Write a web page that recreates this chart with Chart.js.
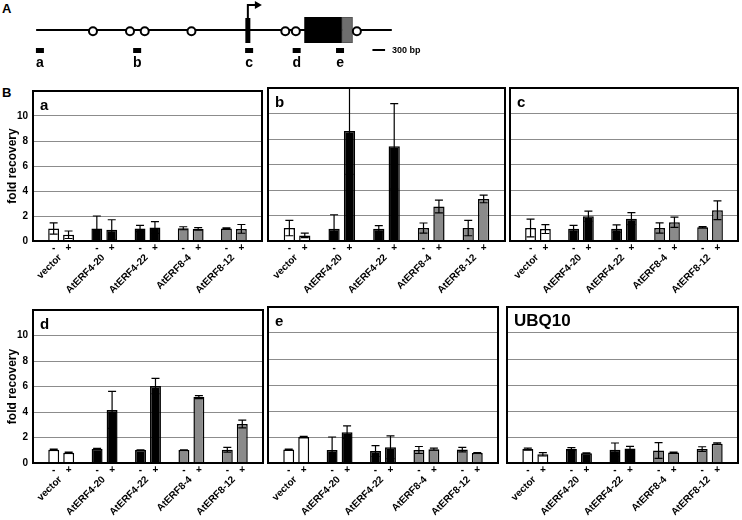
<!DOCTYPE html>
<html lang="en">
<head>
<meta charset="UTF-8">
<title>Fold recovery</title>
<script src="https://cdn.jsdelivr.net/npm/chart.js"></script>
<style>
    body {
        margin: 0;
        width: 742px;
        height: 520px;
        position: relative;
        overflow: hidden;
        background: #fff;
        font-family: 'Liberation Sans', Arial, sans-serif;
    }
    .panel { position: absolute; }
    .tag {
        position: absolute;
        font-weight: bold;
        font-size: 13px;
        line-height: 13px;
    }
</style>
</head>
<body>
<div class="tag" style="left:2px;top:2px">A</div>
<div class="tag" style="left:2px;top:86px">B</div>
<div class="panel" style="left:0;top:0;width:430px;height:75px"><canvas id="geneMap"></canvas></div>

<script>
// ---- gene map (kb from left end of the drawn region)
const locusLengthKb = 8.45;
const siteKb = [1.35, 2.23, 2.58, 3.69, 5.92, 6.17, 7.62];
const tssKb = 5.03;
const cdsKb = [6.37, 7.27];
const utrKb = [7.27, 7.51];
const ampliconNames = ['a', 'b', 'c', 'd', 'e'];
const ampliconKb = [0.09, 2.40, 5.06, 6.19, 7.22];
const scaleBarKb = 0.3;

// ---- ChIP bar panels
const constructs = ['vector', 'AtERF4-20', 'AtERF4-22', 'AtERF8-4', 'AtERF8-12'];
const treatments = ['-', '+'];
const yTicks = [0, 2, 4, 6, 8, 10];

const aMinus = [1.0, 1.0, 1.0, 1.02, 1.0];
const aMinusErr = [0.45, 1.0, 0.25, 0.12, 0.05];
const aPlus = [0.5, 0.9, 1.08, 0.97, 0.97];
const aPlusErr = [0.3, 0.8, 0.47, 0.1, 0.35];

const bMinus = [1.01, 0.96, 0.96, 1.01, 1.01];
const bMinusErr = [0.6, 1.1, 0.24, 0.4, 0.6];
const bPlus = [0.44, 8.62, 7.43, 2.7, 3.3];
const bPlusErr = [0.18, 3.4, 3.35, 0.5, 0.3];

const cMinus = [1.02, 0.97, 0.97, 1.02, 1.07];
const cMinusErr = [0.7, 0.25, 0.3, 0.4, 0.05];
const cPlus = [0.94, 1.94, 1.75, 1.47, 2.41];
const cPlusErr = [0.35, 0.4, 0.47, 0.4, 0.73];

const dMinus = [1.04, 1.09, 1.01, 1.01, 1.04];
const dMinusErr = [0.05, 0.05, 0.03, 0.03, 0.18];
const dPlus = [0.8, 4.16, 6.03, 5.17, 3.06];
const dPlusErr = [0.05, 1.45, 0.6, 0.12, 0.3];

const eMinus = [1.03, 1.0, 0.92, 1.0, 1.03];
const eMinusErr = [0.04, 1.0, 0.42, 0.27, 0.17];
const ePlus = [2.0, 2.37, 1.21, 1.06, 0.77];
const ePlusErr = [0.05, 0.48, 0.87, 0.08, 0.03];

const uMinus = [1.07, 1.07, 1.01, 0.96, 1.07];
const uMinusErr = [0.08, 0.12, 0.53, 0.6, 0.18];
const uPlus = [0.67, 0.75, 1.12, 0.8, 1.49];
const uPlusErr = [0.13, 0.03, 0.16, 0.03, 0.06];

const FONT = "'Liberation Sans', Arial, sans-serif";
const barFills = ['#ffffff', '#000000', '#000000', '#8a8a8a', '#8a8a8a'];

Chart.defaults.font.family = FONT;
Chart.defaults.animation = false;
Chart.defaults.plugins.legend.display = false;
Chart.defaults.plugins.tooltip.enabled = false;

// ---------- panel A: gene diagram ----------
const AXIS_Y = 30;
const geneParts = {
    id: 'geneParts',
    beforeDatasetsDraw(chart) {
        const ctx = chart.ctx;
        const x = chart.scales.x;
        const px = v => x.getPixelForValue(v);
        ctx.save();
        ctx.fillStyle = '#000';
        ctx.strokeStyle = '#000';
        // locus line
        ctx.lineWidth = 2;
        ctx.beginPath();
        ctx.moveTo(px(0), AXIS_Y);
        ctx.lineTo(px(locusLengthKb), AXIS_Y);
        ctx.stroke();
        // TSS bar + arrow
        const t = px(tssKb);
        ctx.fillRect(t - 2.5, 18, 5, 25);
        ctx.beginPath();
        ctx.moveTo(t, 18);
        ctx.lineTo(t, 5);
        ctx.lineTo(t + 8, 5);
        ctx.stroke();
        ctx.beginPath();
        ctx.moveTo(t + 7, 1);
        ctx.lineTo(t + 14, 5);
        ctx.lineTo(t + 7, 9);
        ctx.closePath();
        ctx.fill();
        // coding region and UTR
        ctx.fillRect(px(cdsKb[0]), 17, px(cdsKb[1]) - px(cdsKb[0]), 26);
        ctx.fillStyle = '#6e6e6e';
        ctx.fillRect(px(utrKb[0]), 17, px(utrKb[1]) - px(utrKb[0]), 26);
        ctx.strokeStyle = '#555';
        ctx.lineWidth = 1;
        ctx.strokeRect(px(utrKb[0]), 17.5, px(utrKb[1]) - px(utrKb[0]), 25);
        // amplicons
        ctx.fillStyle = '#000';
        ctx.font = 'bold 14px ' + FONT;
        ctx.textAlign = 'center';
        ctx.textBaseline = 'alphabetic';
        ampliconKb.forEach((k, i) => {
            const c = px(k);
            ctx.fillRect(c - 4, 48, 8, 5);
            ctx.fillText(ampliconNames[i], c, 67);
        });
        // scale bar
        const s0 = px(7.99);
        ctx.fillRect(s0, 49, px(7.99 + scaleBarKb) - s0, 2);
        ctx.font = 'bold 9px ' + FONT;
        ctx.textAlign = 'left';
        ctx.textBaseline = 'middle';
        ctx.fillText('300 bp', px(7.99 + scaleBarKb) + 7, 50.5);
        ctx.restore();
    }
};

new Chart(document.getElementById('geneMap'), {
    type: 'scatter',
    data: {
        datasets: [{
            data: siteKb.map(k => ({ x: k, y: AXIS_Y })),
            pointRadius: 4,
            pointBorderWidth: 2,
            pointBackgroundColor: '#fff',
            pointBorderColor: '#000'
        }]
    },
    options: {
        responsive: true,
        maintainAspectRatio: false,
        events: [],
        layout: { padding: 0 },
        scales: {
            x: { type: 'linear', display: false, min: -0.716, max: 9.215 },
            y: { type: 'linear', display: false, min: 0, max: 75, reverse: true }
        }
    },
    plugins: [geneParts]
});

// ---------- panel B: ChIP bar charts ----------
const errorBarsAndFrame = {
    id: 'errorBarsAndFrame',
    afterDatasetsDraw(chart) {
        const { ctx, chartArea: a, scales: { y } } = chart;
        ctx.save();
        ctx.beginPath();
        ctx.rect(a.left, a.top, a.right - a.left, a.bottom - a.top);
        ctx.clip();
        ctx.strokeStyle = '#000';
        ctx.lineWidth = 1.2;
        chart.data.datasets.forEach((ds, di) => {
            chart.getDatasetMeta(di).data.forEach((bar, i) => {
                const v = ds.data[i].y, e = ds.errors[i];
                const hi = y.getPixelForValue(v + e);
                const lo = y.getPixelForValue(v - e);
                ctx.beginPath();
                ctx.moveTo(bar.x, hi); ctx.lineTo(bar.x, lo);
                ctx.moveTo(bar.x - 4, hi); ctx.lineTo(bar.x + 4, hi);
                ctx.moveTo(bar.x - 4, lo); ctx.lineTo(bar.x + 4, lo);
                ctx.stroke();
            });
        });
        ctx.restore();
        ctx.save();
        ctx.strokeStyle = '#000';
        ctx.lineWidth = 2;
        ctx.strokeRect(a.left, a.top, a.right - a.left, a.bottom - a.top);
        ctx.restore();
    }
};

const categoryLabels = {
    id: 'categoryLabels',
    afterDraw(chart, args, opts) {
        const { ctx, chartArea: a } = chart;
        const m0 = chart.getDatasetMeta(0).data;
        const m1 = chart.getDatasetMeta(1).data;
        ctx.save();
        ctx.fillStyle = '#000';
        ctx.font = 'bold 10px ' + FONT;
        ctx.textAlign = 'center';
        ctx.textBaseline = 'middle';
        constructs.forEach((name, i) => {
            ctx.fillText(treatments[0], m0[i].x, a.bottom + 7);
            ctx.fillText(treatments[1], m1[i].x, a.bottom + 7);
            const cx = (m0[i].x + m1[i].x) / 2 + 1;
            ctx.save();
            ctx.translate(cx, a.bottom + 17);
            ctx.rotate(-Math.PI / 4);
            ctx.font = 'bold 10px ' + FONT;
            ctx.textAlign = 'right';
            ctx.textBaseline = 'alphabetic';
            ctx.fillText(name, 0, 0);
            ctx.restore();
        });
        ctx.font = 'bold ' + opts.tagSize + 'px ' + FONT;
        ctx.textAlign = 'left';
        ctx.textBaseline = 'alphabetic';
        ctx.fillText(opts.tag, a.left + 7, a.top + 19);
        ctx.restore();
    }
};

function makePanel(p) {
    const yW = p.yAxis ? 33 : 0;
    const padL = p.yAxis ? 0 : 3, padT = 8, padR = 3, padB = 66;
    const wrap = document.createElement('div');
    wrap.className = 'panel';
    wrap.style.left = (p.box[0] - yW - padL) + 'px';
    wrap.style.top = (p.box[1] - padT) + 'px';
    wrap.style.width = (yW + padL + p.box[2] + padR) + 'px';
    wrap.style.height = (padT + p.box[3] + padB) + 'px';
    const canvas = document.createElement('canvas');
    wrap.appendChild(canvas);
    document.body.appendChild(wrap);

    const series = [[p.minus, p.minusErr], [p.plus, p.plusErr]];
    new Chart(canvas, {
        type: 'bar',
        data: {
            datasets: series.map(([vals, errs], k) => ({
                label: treatments[k],
                data: vals.map((v, i) => ({ x: i, y: v })),
                errors: errs,
                backgroundColor: barFills,
                borderColor: '#000',
                borderWidth: 1.5,
                categoryPercentage: 0.69,
                barPercentage: 0.73
            }))
        },
        options: {
            responsive: true,
            maintainAspectRatio: false,
            events: [],
            layout: { padding: { left: padL, top: padT, right: padR, bottom: padB } },
            scales: {
                x: { type: 'linear', display: false, offset: false, min: -0.65, max: 4.65 },
                y: {
                    min: 0,
                    max: 12,
                    border: { display: false },
                    grid: { color: '#8c8c8c', lineWidth: 1, drawTicks: false },
                    ticks: {
                        display: p.yAxis,
                        stepSize: 2,
                        padding: 5,
                        color: '#000',
                        font: { size: 10, weight: 'bold' },
                        callback: v => yTicks.includes(v) ? String(v) : ''
                    },
                    title: {
                        display: p.yAxis,
                        text: 'fold recovery',
                        color: '#000',
                        padding: { top: 5, bottom: 0 },
                        font: { size: 12, weight: 'bold' }
                    },
                    afterFit: s => { s.width = yW; }
                }
            },
            plugins: {
                categoryLabels: { tag: p.tag, tagSize: p.tagSize || 15 }
            }
        },
        plugins: [errorBarsAndFrame, categoryLabels]
    });
}

makePanel({ tag: 'a', yAxis: true, box: [33, 88, 229, 153], minus: aMinus, minusErr: aMinusErr, plus: aPlus, plusErr: aPlusErr });
makePanel({ tag: 'b', yAxis: false, box: [268, 88, 237, 153], minus: bMinus, minusErr: bMinusErr, plus: bPlus, plusErr: bPlusErr });
makePanel({ tag: 'c', yAxis: false, box: [510, 88, 228, 153], minus: cMinus, minusErr: cMinusErr, plus: cPlus, plusErr: cPlusErr });
makePanel({ tag: 'd', yAxis: true, box: [33, 307, 230, 156], minus: dMinus, minusErr: dMinusErr, plus: dPlus, plusErr: dPlusErr });
makePanel({ tag: 'e', yAxis: false, box: [268, 307, 230, 156], minus: eMinus, minusErr: eMinusErr, plus: ePlus, plusErr: ePlusErr });
makePanel({ tag: 'UBQ10', tagSize: 17, yAxis: false, box: [507, 307, 231, 156], minus: uMinus, minusErr: uMinusErr, plus: uPlus, plusErr: uPlusErr });
</script>
</body>
</html>
